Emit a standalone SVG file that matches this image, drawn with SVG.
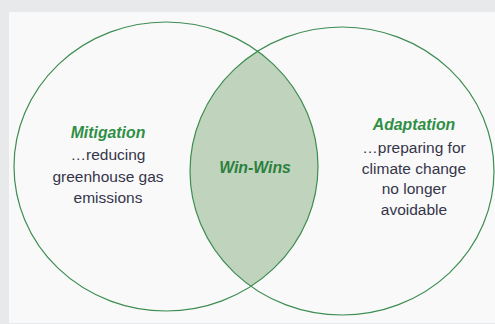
<svg xmlns="http://www.w3.org/2000/svg" width="495" height="324" viewBox="0 0 495 324">
<defs>
<style>
.ring{fill:none;stroke:#3e8d52;stroke-width:1.2}
.head{font-family:"Liberation Sans",Arial,sans-serif;font-weight:bold;font-style:italic;font-size:15.8px;fill:#2f8f45;text-anchor:middle}
.body{font-family:"Liberation Sans",Arial,sans-serif;font-size:15.5px;fill:#35354a;text-anchor:middle}
</style>
<clipPath id="clipL"><ellipse cx="166" cy="166.5" rx="152" ry="144.5"/></clipPath>
</defs>
<rect x="0" y="0" width="495" height="324" fill="#e8e9eb"/>
<rect x="9" y="12" width="486" height="311" fill="#f9f9f9"/>
<g id="lens">
<ellipse cx="342" cy="171" rx="152" ry="144" fill="#c0d3bc" clip-path="url(#clipL)"/>
</g>
<g id="mitigation">
<ellipse class="ring" cx="166" cy="166.5" rx="152" ry="144.5"/>
<text class="head" x="108" y="138">Mitigation</text>
<text class="body" x="108" y="160">…reducing</text>
<text class="body" x="108" y="182">greenhouse gas</text>
<text class="body" x="108" y="203">emissions</text>
</g>
<g id="adaptation">
<ellipse class="ring" cx="342" cy="171" rx="152" ry="144"/>
<text class="head" x="414" y="130">Adaptation</text>
<text class="body" x="414" y="153">…preparing for</text>
<text class="body" x="414" y="174">climate change</text>
<text class="body" x="414" y="194">no longer</text>
<text class="body" x="414" y="215">avoidable</text>
</g>
<g id="winwins">
<text class="head" x="255" y="173" fill="#2b8040" style="fill:#2b8040">Win-Wins</text>
</g>
<g id="connectors"/>
</svg>
